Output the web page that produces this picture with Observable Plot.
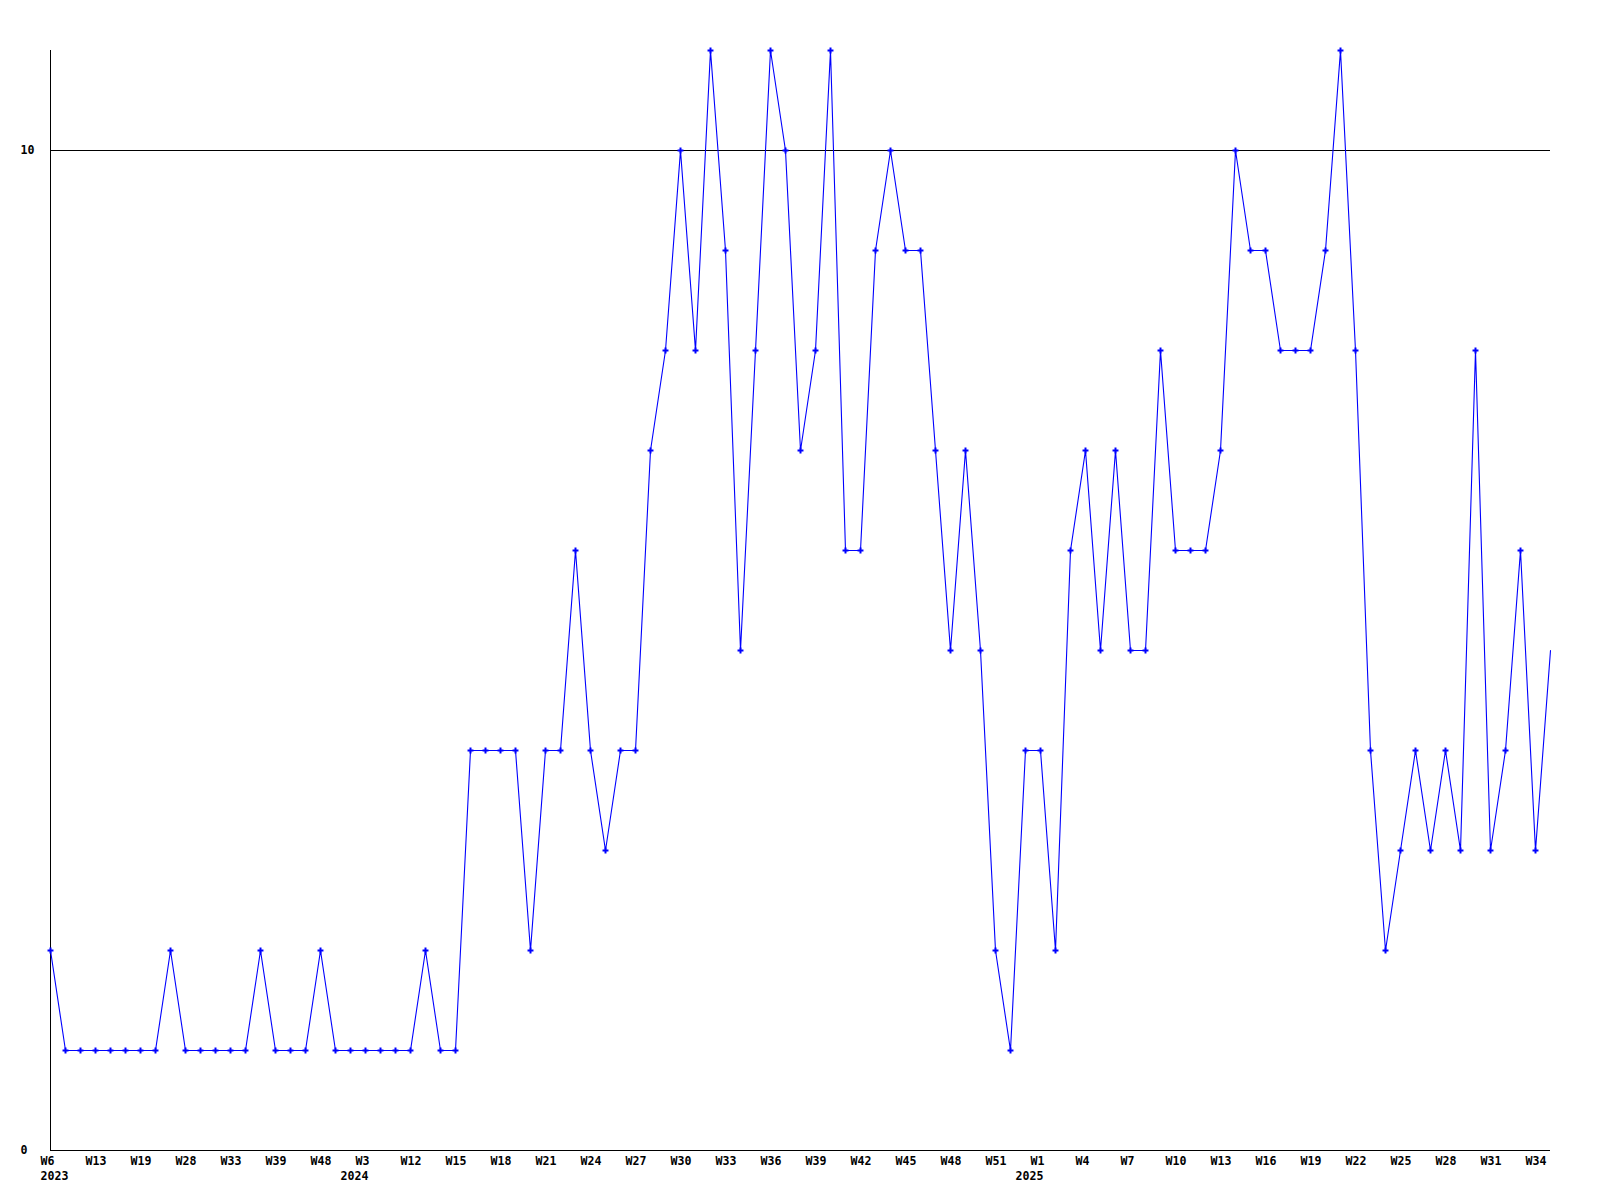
<!DOCTYPE html>
<html><head><meta charset="utf-8">
<script src="https://cdn.jsdelivr.net/npm/d3@7"></script>
<script src="https://cdn.jsdelivr.net/npm/@observablehq/plot@0.6"></script>
<style>body{margin:0;background:#fff}</style></head>
<body><div id="chart"></div>
<script>
const weeks = [
 "2023-W06","2023-W08","2023-W11","2023-W13","2023-W15","2023-W17","2023-W19","2023-W22","2023-W25","2023-W28",
 "2023-W30","2023-W31","2023-W33","2023-W35","2023-W37","2023-W39","2023-W42","2023-W45","2023-W48","2023-W50",
 "2023-W52","2024-W03","2024-W06","2024-W09","2024-W12","2024-W13","2024-W14","2024-W15","2024-W16","2024-W17",
 "2024-W18","2024-W19","2024-W20","2024-W21","2024-W22","2024-W23","2024-W24","2024-W25","2024-W26","2024-W27",
 "2024-W28","2024-W29","2024-W30","2024-W31","2024-W32","2024-W33","2024-W34","2024-W35","2024-W36","2024-W37",
 "2024-W38","2024-W39","2024-W40","2024-W41","2024-W42","2024-W43","2024-W44","2024-W45","2024-W46","2024-W47",
 "2024-W48","2024-W49","2024-W50","2024-W51","2024-W52","2024-W53","2025-W01","2025-W02","2025-W03","2025-W04",
 "2025-W05","2025-W06","2025-W07","2025-W08","2025-W09","2025-W10","2025-W11","2025-W12","2025-W13","2025-W14",
 "2025-W15","2025-W16","2025-W17","2025-W18","2025-W19","2025-W20","2025-W21","2025-W22","2025-W23","2025-W24",
 "2025-W25","2025-W26","2025-W27","2025-W28","2025-W29","2025-W30","2025-W31","2025-W32","2025-W33","2025-W34",
 "2025-W35"
];
const counts = [
 2,1,1,1,1,1,1,1,2,1,1,1,1,1,2,1,1,1,2,1,1,1,1,1,1,2,1,1,
 4,4,4,4,2,4,4,6,4,3,4,4,
 7,8,10,8,11,9,5,8,11,10,7,8,11,6,6,9,10,9,9,7,
 5,7,5,2,1,4,4,2,6,7,5,7,5,5,8,6,6,6,7,10,
 9,9,8,8,8,9,11,8,4,2,3,4,3,4,3,8,3,4,6,3,5
];
const yTicks = [0, 10];
const refLine = [10];

const data = weeks.map((w, i) => ({week: w, count: counts[i]}));
const tickWeeks = weeks.filter((d, i) => i % 3 === 0);
const yearStarts = weeks.filter((d, i) => i === 0 || d.slice(0, 4) !== weeks[i - 1].slice(0, 4));
const weekLabel = d => "W" + (+d.slice(6));
const yearLabel = d => d.slice(0, 4);

const chart = Plot.plot({
  width: 1600, height: 1200,
  marginLeft: 50, marginRight: 50, marginTop: 50, marginBottom: 50,
  style: {fontFamily: "'DejaVu Sans Mono', monospace", fontSize: "11.6px", fontWeight: "bold", color: "#000", background: "#fff", overflow: "visible"},
  x: {type: "point", domain: weeks, padding: 0},
  y: {domain: [0, 11]},
  marks: [
    Plot.ruleY(refLine, {stroke: "#000", strokeWidth: 1}),
    Plot.axisX({ticks: tickWeeks, tickFormat: weekLabel, tickSize: 0, tickPadding: 6, textAnchor: "start", dx: -10, label: null}),
    Plot.axisX({ticks: [yearStarts[0]], tickFormat: yearLabel, tickSize: 0, tickPadding: 21, textAnchor: "start", dx: -10, label: null}),
    Plot.axisX({ticks: yearStarts.slice(1), tickFormat: yearLabel, tickSize: 0, tickPadding: 21, textAnchor: "end", dx: 3, label: null}),
    Plot.axisY({ticks: yTicks, tickSize: 0, tickPadding: 30, textAnchor: "start", label: null}),
    Plot.ruleY([0], {stroke: "#000", strokeWidth: 1}),
    Plot.ruleX([weeks[0]], {stroke: "#000", strokeWidth: 1}),
    Plot.line(data, {x: "week", y: "count", stroke: "#0000ff", strokeWidth: 1.1}),
    Plot.dot(data.slice(0, -1), {x: "week", y: "count", symbol: "cross", r: 2.5, fill: "#0000ff", stroke: null})
  ]
});
document.getElementById("chart").appendChild(chart);
</script>
</body></html>
